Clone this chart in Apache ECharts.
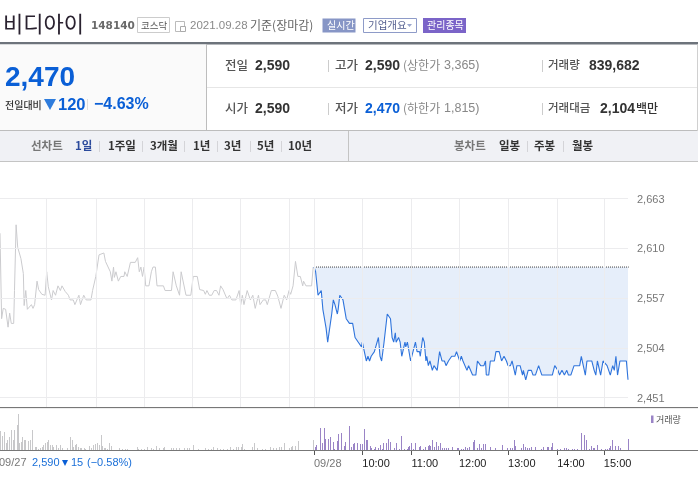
<!DOCTYPE html>
<html><head><meta charset="utf-8"><style>html,body{margin:0;padding:0;background:#fff;overflow:hidden}#c{width:698px;height:491px}</style>
<script src="https://cdn.jsdelivr.net/npm/echarts@6/dist/echarts.min.js"></script></head><body><div id="c"></div>
<script>
// minute since 09/27 09:00 (09/28 opens at 390), price
const prevPrice=[[0,2626],[2,2535],[4,2546],[7,2545],[10,2526],[12,2541],[14,2530],[17,2530],[18,2565],[20,2635],[22,2611],[24,2611],[26,2599],[29,2583],[30,2549],[32,2565],[34,2545],[36,2546],[39,2550],[41,2546],[43,2550],[44,2550],[46,2575],[48,2566],[50,2565],[52,2561],[56,2560],[58,2585],[60,2569],[64,2555],[66,2565],[69,2560],[72,2570],[75,2565],[77,2570],[81,2564],[85,2560],[87,2555],[91,2555],[93,2550],[95,2550],[98,2560],[100,2550],[104,2560],[107,2555],[113,2555],[115,2565],[119,2580],[121,2580],[123,2603],[125,2605],[129,2605],[131,2596],[133,2595],[137,2585],[139,2575],[141,2590],[142,2579],[144,2585],[147,2575],[150,2580],[154,2580],[155,2585],[158,2580],[162,2595],[168,2595],[171,2600],[173,2585],[175,2590],[177,2580],[179,2590],[181,2570],[185,2570],[188,2585],[190,2590],[193,2590],[195,2570],[203,2570],[205,2565],[213,2565],[215,2585],[217,2585],[219,2570],[223,2560],[225,2585],[227,2585],[231,2560],[237,2560],[240,2580],[245,2580],[248,2566],[253,2565],[255,2561],[257,2565],[260,2560],[263,2560],[266,2565],[269,2565],[272,2560],[274,2570],[277,2566],[279,2565],[282,2556],[285,2560],[288,2555],[293,2555],[297,2565],[299,2550],[301,2560],[303,2550],[307,2565],[309,2565],[311,2555],[314,2560],[317,2546],[321,2560],[323,2550],[327,2555],[330,2555],[332,2550],[337,2565],[342,2565],[345,2559],[349,2546],[353,2560],[356,2555],[359,2565],[361,2561],[364,2570],[366,2570],[367,2596],[370,2580],[373,2580],[376,2570],[377,2575],[380,2570],[387,2570],[389,2590]];
const todayPrice=[[390,2590],[392,2585],[395,2560],[397,2560],[399,2565],[401,2545],[402,2540],[405,2525],[407,2510],[409,2510],[412,2540],[414,2555],[416,2550],[419,2540],[420,2545],[422,2560],[424,2560],[426,2555],[430,2535],[432,2535],[434,2530],[438,2530],[441,2515],[443,2515],[445,2510],[447,2510],[449,2505],[450,2510],[455,2490],[457,2495],[459,2490],[461,2495],[463,2495],[465,2500],[467,2500],[470,2515],[472,2495],[474,2490],[477,2510],[479,2510],[481,2540],[483,2540],[485,2535],[487,2515],[489,2510],[491,2520],[492,2510],[495,2515],[497,2510],[499,2495],[501,2495],[503,2510],[504,2505],[506,2510],[508,2510],[510,2490],[513,2500],[515,2500],[516,2510],[518,2500],[521,2500],[522,2495],[525,2515],[527,2510],[529,2490],[530,2495],[532,2485],[534,2490],[537,2480],[539,2485],[541,2485],[543,2480],[546,2500],[549,2490],[552,2490],[554,2485],[557,2490],[559,2490],[561,2495],[565,2495],[567,2500],[569,2500],[571,2490],[573,2495],[575,2490],[577,2490],[580,2480],[582,2485],[587,2475],[591,2475],[593,2490],[595,2490],[597,2485],[601,2485],[603,2490],[604,2475],[607,2475],[609,2490],[614,2490],[616,2500],[620,2500],[623,2490],[625,2490],[626,2495],[629,2490],[631,2485],[634,2485],[636,2490],[640,2475],[642,2485],[646,2485],[649,2475],[650,2480],[653,2470],[656,2480],[660,2480],[662,2475],[665,2475],[669,2485],[671,2485],[673,2475],[686,2475],[689,2485],[691,2485],[693,2480],[695,2475],[698,2480],[701,2475],[704,2480],[706,2475],[709,2475],[713,2485],[720,2485],[722,2495],[727,2475],[729,2490],[735,2490],[738,2480],[740,2475],[742,2490],[746,2475],[749,2490],[751,2490],[754,2485],[758,2475],[761,2485],[763,2480],[765,2495],[767,2475],[770,2490],[778,2490],[780,2470]];
// minute, volume (hundreds of shares, estimated)
const prevVolume=[[0,228],[2,168],[5,220],[7,80],[9,120],[11,160],[14,240],[16,120],[18,240],[21,300],[22,432],[24,80],[26,100],[27,152],[30,120],[31,120],[35,112],[37,120],[40,240],[43,40],[45,32],[47,12],[50,20],[52,32],[54,60],[56,80],[58,100],[60,120],[62,60],[64,60],[66,40],[70,60],[72,20],[75,60],[77,20],[83,20],[87,160],[89,120],[91,40],[93,60],[95,72],[97,32],[99,20],[101,20],[104,20],[106,12],[110,48],[113,20],[116,60],[118,72],[120,80],[123,60],[125,180],[127,48],[129,20],[131,20],[133,12],[135,80],[138,48],[148,20],[151,8],[155,8],[158,12],[170,32],[172,12],[175,12],[179,12],[182,40],[187,20],[190,12],[194,48],[198,20],[202,20],[204,32],[213,20],[215,20],[219,20],[222,20],[229,20],[232,20],[235,20],[240,60],[246,12],[255,20],[258,12],[262,8],[265,40],[269,20],[273,12],[277,12],[282,12],[286,40],[290,12],[293,40],[296,32],[299,32],[301,72],[303,12],[313,32],[315,88],[319,20],[326,12],[329,12],[335,32],[339,20],[343,20],[347,32],[349,32],[353,88],[359,20],[361,40],[363,48],[366,48],[370,108],[389,120]];
const todayVolume=[[391,40],[393,60],[397,260],[398,160],[400,80],[403,260],[404,132],[407,132],[408,120],[410,152],[413,100],[415,12],[419,108],[420,192],[423,200],[424,60],[427,48],[429,100],[433,288],[436,40],[439,68],[440,88],[443,80],[444,72],[447,68],[450,68],[452,248],[455,120],[456,120],[459,48],[461,20],[464,12],[466,32],[469,20],[472,60],[475,12],[476,80],[479,20],[480,88],[482,128],[485,92],[489,20],[492,88],[496,12],[498,168],[502,12],[505,12],[507,32],[508,48],[511,80],[513,12],[516,80],[520,40],[522,48],[525,12],[528,40],[531,48],[533,60],[534,48],[537,120],[539,40],[542,92],[544,48],[547,80],[549,20],[552,20],[554,20],[557,20],[562,32],[567,20],[569,20],[573,12],[575,12],[578,40],[580,20],[583,32],[587,100],[589,120],[592,20],[595,72],[598,20],[600,72],[603,72],[609,32],[615,28],[623,60],[630,20],[633,20],[636,20],[639,120],[640,48],[647,20],[649,68],[652,32],[655,20],[657,20],[660,32],[665,32],[672,12],[675,32],[679,32],[681,32],[684,32],[685,88],[692,12],[695,12],[701,20],[703,20],[706,12],[711,12],[713,12],[717,12],[722,200],[725,180],[728,120],[732,12],[734,48],[737,20],[738,20],[741,60],[747,12],[751,12],[754,12],[757,20],[758,48],[760,120],[764,48],[767,48],[770,20],[780,128]];
const priceTicks=[2663,2610,2557,2504,2451];
const prevClose=2590;
const hourGridMinutes=[57,119,179,239,298,359,390,450,511,570,631,692,750];
const xTickMinutes=[390,450,511,570,631,692,750];
const xTickLabels=['09/28','10:00','11:00','12:00','13:00','14:00','15:00'];
const FONT='"Noto Sans CJK KR","Noto Sans",sans-serif';
const NUM='"Liberation Sans",sans-serif';
const g=[];
const rect=(x,y,w,h,fill,stroke)=>g.push({type:'rect',silent:true,z:50,shape:{x,y,width:w,height:h},style:{fill:fill||'none',stroke:stroke||null,lineWidth:stroke?1:0}});
const txt=(x,y,t,size,color,weight,fam,align)=>g.push({type:'text',silent:true,z:60,style:{x,y,text:t,fontSize:size,fill:color,fontWeight:weight||'normal',fontFamily:fam||FONT,align:align||'left',verticalAlign:'middle'}});
const tri=(x,y,w,h,color)=>g.push({type:'polygon',silent:true,z:60,shape:{points:[[x,y],[x+w,y],[x+w/2,y+h]]},style:{fill:color}});
const BLUE='#0a5fd6',DARK='#333',GREY='#666';
// header
txt(3,24,'비디아이',22,'#2a2230');
txt(91,26,'148140',10.5,'#6a6a6a','bold','"DejaVu Sans",sans-serif');
rect(137.5,17.5,32,15,'#fff','#ccc'); txt(141,25,'코스닥',9.5,'#555');
rect(175.5,21.5,9,10,'#fff','#bbb'); rect(180.5,26.5,5,5,'#fff','#aaa');
txt(190,25.5,'2021.09.28',11.5,'#8a8a8a',null,NUM);
txt(250,25,'기준(장마감)',12,'#666');
rect(322.5,18.5,33,14,'#8796c6'); txt(327,25.5,'실시간',10,'#fff');
rect(363.5,18.5,53,14,'#fff','#8e9bc8'); txt(368,25,'기업개요',10.5,'#556090'); tri(407,24,5,3,'#9aa6cc');
rect(423,18,43,15,'#7b64c8'); txt(427,25.5,'관리종목',10,'#fff');
rect(0,42,698,2.5,'#6d737b');
// summary panel
rect(0,44.5,206,86,'#fafafa');
rect(206,44.5,1,86,'#bdbdbd');
rect(207,87,491,1,'#e6e6e6');
rect(0,130,698,1,'#bdbdbd');
rect(697,44.5,1,117,'#d0d0d0');
txt(5,78,'2,470',28,BLUE,'bold',NUM);
txt(5,105,'전일대비',10,DARK,'500');
tri(44,99,12,11,'#2e7cdc');
txt(58,105,'120',16.5,BLUE,'bold',NUM);
rect(87,99,1,11,'#ddd');
txt(94,105,'−4.63%',16,BLUE,'bold',NUM);
const rows=[[66,'전일','2,590','고가','2,590',DARK,'(상한가','3,365)','거래량','839,682',589],[109,'시가','2,590','저가','2,470',BLUE,'(하한가','1,815)','거래대금','2,104',600]];
rows.forEach(r=>{const y=r[0];
 txt(225,y-1,r[1],12.5,'#555','500'); txt(255,y,r[2],14,DARK,'bold',NUM);
 rect(328,y-6,1,12,'#ccc');
 txt(335,y-1,r[3],12.5,'#555','500'); txt(365,y,r[4],14,r[5],'bold',NUM);
 txt(403,y-1,r[6],12,'#888'); txt(444,y,r[7],12.5,'#888',null,NUM);
 rect(542,y-6,1,12,'#ccc');
 txt(548,y-1,r[8],11.5,'#555','500'); txt(r[10],y,r[9],14,DARK,'bold',NUM);
});
txt(636,108,'백만',12,DARK,'500');
// toolbar
rect(0,131,698,30,'#f0f1f5');
rect(0,161,698,1,'#c4c4c4');
rect(348,131,1,30,'#c4c4c4');
txt(31,145.5,'선차트',11.5,'#777','bold');
[[75,'1일','#2b4a9c'],[108,'1주일',DARK],[150,'3개월',DARK],[193,'1년',DARK],[224,'3년',DARK],[257,'5년',DARK],[288,'10년',DARK]].forEach(a=>txt(a[0],145.5,a[1],11.5,a[2],'bold'));
[99,142,184,217,250,281].forEach(x=>rect(x,141,1,11,'#d4d4d8'));
txt(454,145.5,'봉차트',11.5,'#777','bold');
[[499,'일봉'],[534,'주봉'],[572,'월봉']].forEach(a=>txt(a[0],145.5,a[1],11.5,DARK,'bold'));
[527,563].forEach(x=>rect(x,141,1,11,'#d4d4d8'));
// panel rules and volume legend
rect(0,407,698,1,'#777'); rect(0,408,698,1,'#eee');
rect(0,450,698,1,'#777');
rect(651,415.5,2.5,7.5,'#9a84c6'); txt(656,419.5,'거래량',9,'#555');
// previous-session footer
txt(-1,463,'09/27',11,'#777',null,NUM);
txt(32,463,'2,590',11,'#1a6fd8',null,NUM);
tri(62,460,6,6,BLUE);
txt(71,463,'15',11,'#1a6fd8',null,NUM);
txt(87,463,'(−0.58%)',11,'#1a6fd8',null,NUM);

const gridLine={color:'#ececee',width:1,type:'solid'};
const volumeBars=(color)=>(params,api)=>{
  const top=api.coord([api.value(0),api.value(1)]);
  const base=api.coord([api.value(0),0]);
  const y=Math.round(top[1]);
  return {type:'rect',silent:true,shape:{x:Math.round(top[0]),y,width:1,height:Math.round(base[1])-y},style:{fill:color}};
};
const option={animation:false,backgroundColor:'#fff',graphic:g,
 grid:[{left:0,right:70,top:198.5,height:208.5},{left:0,right:70,top:410,height:40}],
 xAxis:[
  {gridIndex:0,type:'value',min:0,max:780,show:false,splitLine:{show:false}},
  {gridIndex:1,type:'value',min:0,max:780,axisLine:{show:false},splitLine:{show:false},
   axisTick:{show:true,customValues:xTickMinutes,length:5,lineStyle:{color:'#555'}},
   axisLabel:{customValues:xTickMinutes,margin:8,align:'left',fontSize:11,fontFamily:NUM,color:'#222',
     formatter:v=>{const i=xTickMinutes.indexOf(v);return i===0?'{d|'+xTickLabels[0]+'}':xTickLabels[i];},rich:{d:{color:'#777',fontSize:11,fontFamily:NUM}}}}
 ],
 yAxis:[
  {gridIndex:0,type:'value',min:2441,max:2663,position:'right',axisLine:{show:false},axisTick:{show:false},splitLine:{show:false},
   axisLabel:{customValues:priceTicks,margin:9,formatter:v=>'{p|'+v.toLocaleString('en-US')+'}',
     rich:{p:{padding:[2,0,0,0],fontSize:11,fontFamily:NUM,color:'#777'}}}},
  {gridIndex:1,type:'value',min:0,max:480,show:false,splitLine:{show:false}}
 ],
 series:[
  {type:'line',xAxisIndex:0,yAxisIndex:0,data:[],z:1,silent:true,
   markLine:{silent:true,symbol:'none',animation:false,label:{show:false},lineStyle:gridLine,
    data:[...priceTicks.map(v=>({yAxis:v})),...hourGridMinutes.map(v=>({xAxis:v}))]}},
  {type:'line',xAxisIndex:0,yAxisIndex:0,data:prevPrice,showSymbol:false,z:3,silent:true,lineStyle:{color:'#cbcbce',width:1}},
  {type:'line',xAxisIndex:0,yAxisIndex:0,data:todayPrice,showSymbol:false,z:3,silent:true,clip:false,
   lineStyle:{color:'#2f74dc',width:1.1},
   areaStyle:{origin:prevClose,color:'#3c78d8',opacity:0.13}},
  {type:'line',xAxisIndex:0,yAxisIndex:0,data:[[390,prevClose],[781,prevClose]],showSymbol:false,z:4,silent:true,clip:false,
   lineStyle:{color:'#444',width:1,type:'dotted'}},
  {type:'custom',xAxisIndex:1,yAxisIndex:1,data:prevVolume,encode:{x:0,y:1},silent:true,renderItem:volumeBars('#c8c8ca')},
  {type:'custom',xAxisIndex:1,yAxisIndex:1,data:todayVolume,encode:{x:0,y:1},silent:true,renderItem:volumeBars('#9a84c6')}
 ]};
echarts.init(document.getElementById('c')).setOption(option);
</script></body></html>
